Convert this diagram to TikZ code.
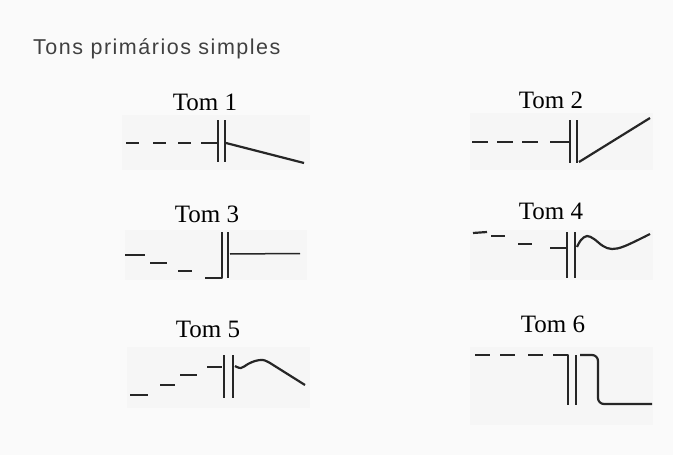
\documentclass[tikz,border=0pt]{standalone}
\usepackage{fontspec}
\setmainfont{Liberation Serif}
\newfontfamily\titlefont[LetterSpace=7]{Liberation Sans}
\usetikzlibrary{positioning}

\tikzset{
  panelbg/.style={fill=black!3.5, draw=none},
  tone/.style={line width=2.2pt, line join=round, black!85},
  bar/.style={line width=2.5pt, black!85},
  tomlabel/.style={anchor=base, inner sep=0pt, font=\fontsize{25}{29}\selectfont}
}

\begin{document}
\begin{tikzpicture}[x=1pt, y=-1pt]
    % Background
    \fill[black!2] (0,0) rectangle (673,455);
    \useasboundingbox (0,0) rectangle (673,455);

    % Title
    \node[anchor=base west, inner sep=0pt, text=black!75, font=\titlefont\fontsize{21.5}{25}\selectfont] (title) at (33,54) {Tons primários simples};

    % Shaded panels
    \fill[panelbg] (122,115) rectangle (310,170);
    \fill[panelbg] (470,113) rectangle (653,170);
    \fill[panelbg] (125,230) rectangle (307,280);
    \fill[panelbg] (470,230) rectangle (653,280);
    \fill[panelbg] (127,347) rectangle (310,408);
    \fill[panelbg] (470,347) rectangle (653,425);

    % Labels
    \node[tomlabel] (tom1) at (205,110) {Tom 1};
    \node[tomlabel] (tom2) at (551,108) {Tom 2};
    \node[tomlabel] (tom3) at (207,222) {Tom 3};
    \node[tomlabel] (tom4) at (551,219) {Tom 4};
    \node[tomlabel] (tom5) at (208,337) {Tom 5};
    \node[tomlabel] (tom6) at (553,332) {Tom 6};

    % Tom 1: level, then falling
    \foreach \a/\b in {126/139, 153/166, 178/191, 201/218}
        \draw[tone] (\a,143) -- (\b,143);
    \draw[bar] (218,120) -- (218,162);
    \draw[bar] (225,120) -- (225,162);
    \draw[tone] (226,143) -- (304,163);

    % Tom 2: level, then rising
    \foreach \a/\b in {472/488, 497/513, 522/538, 550/570}
        \draw[tone] (\a,142) -- (\b,142);
    \draw[bar] (570,120) -- (570,163);
    \draw[bar] (577,120) -- (577,163);
    \draw[tone] (579,162) -- (650,118);

    % Tom 3: falling steps, then level
    \draw[tone] (125,255) -- (145,255);
    \draw[tone] (150,263) -- (167,263);
    \draw[tone] (178,271) -- (192,271);
    \draw[tone] (205,278) -- (222,278) -- (222,232);
    \draw[bar] (228,232) -- (228,278);
    \draw[tone, line width=1.5pt] (230,254) -- (300,253.5);

    % Tom 4: falling steps, then wave
    \draw[tone] (473,233) -- (487,232);
    \draw[tone] (491,236) -- (505,236);
    \draw[tone] (518,244) -- (532,244);
    \draw[tone] (550,248) -- (567,248);
    \draw[bar] (567,232) -- (567,278);
    \draw[bar] (575,232) -- (575,278);
    \draw[tone] plot[smooth, tension=0.6] coordinates {(577,247) (581,240) (587,236) (594,239) (603,246) (612,249) (625,246) (650,234)};

    % Tom 5: rising steps, then hump and fall
    \draw[tone] (130,395) -- (148,395);
    \draw[tone] (160,385) -- (175,385);
    \draw[tone] (180,375) -- (197,375);
    \draw[tone] (207,367) -- (222,367);
    \draw[bar] (224,355) -- (224,398);
    \draw[bar] (233,355) -- (233,398);
    \draw[tone] plot[smooth, tension=0.6] coordinates {(235,366) (241,368) (248,364) (255,361) (263,360) (270,363)} -- (305,385);

    % Tom 6: level, then sudden drop
    \foreach \a/\b in {475/490, 500/515, 528/543}
        \draw[tone] (\a,355) -- (\b,355);
    \draw[tone] (553,355) -- (568,355) -- (568,405);
    \draw[bar] (576,355) -- (576,405);
    \draw[tone, rounded corners=6pt] (580,355) -- (598,355) -- (598,404) -- (652,404);
\end{tikzpicture}
\end{document}
